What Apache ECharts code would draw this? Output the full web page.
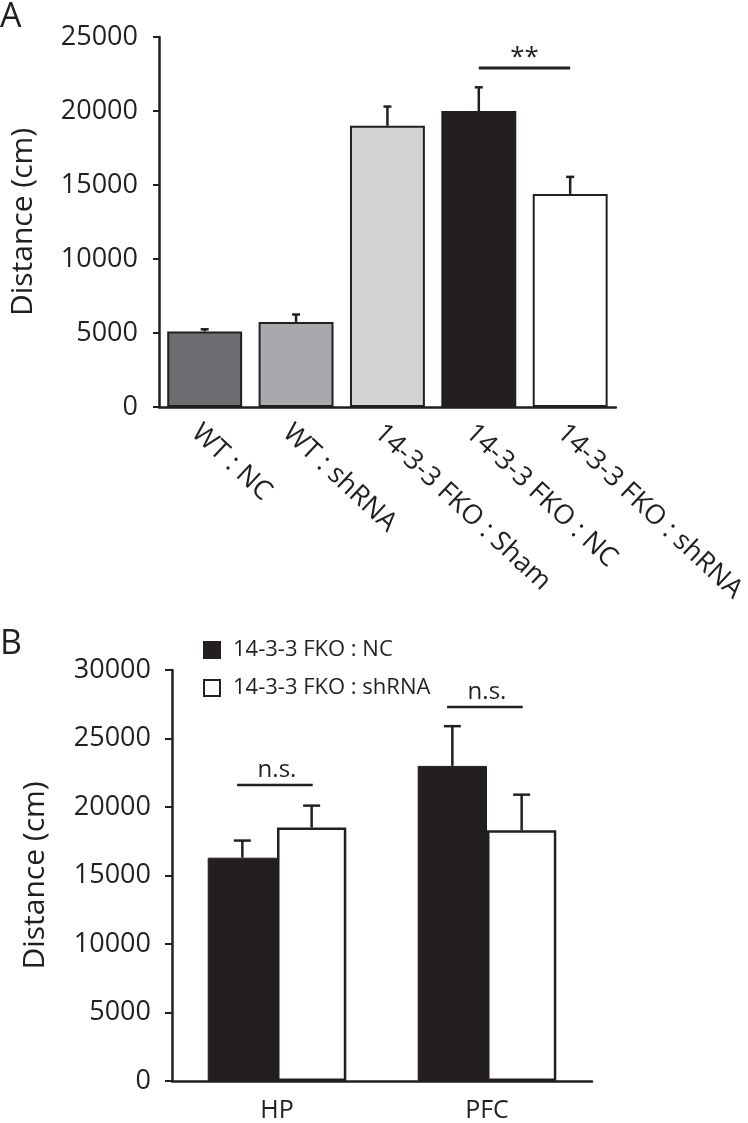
<!DOCTYPE html>
<html>
<head>
<meta charset="utf-8">
<script src="https://cdn.jsdelivr.net/npm/echarts@6/dist/echarts.min.js"></script>
<style>html,body{margin:0;padding:0;background:#fff}#c{width:748px;height:1123px}</style>
</head>
<body>
<div id="c"></div>
<script>
// ---- Panel A data ----
const catsA = ['WT : NC', 'WT : shRNA', '14-3-3 FKO : Sham', '14-3-3 FKO : NC', '14-3-3 FKO : shRNA'];
const valsA = [5100, 5750, 19000, 20000, 14400];
const errA = [150, 500, 1300, 1600, 1150];
const colorsA = ['#6d6e71', '#a7a9ac', '#d1d3d4', '#231f20', '#ffffff'];
const ticksA = [0, 5000, 10000, 15000, 20000, 25000];
const sigA = [[3, 4, 22900]];
const sigLabelsA = ['**'];

// ---- Panel B data ----
const catsB = ['HP', 'PFC'];
const seriesNamesB = ['14-3-3 FKO : NC', '14-3-3 FKO : shRNA'];
const ncB = [16300, 23000];
const ncErrB = [1250, 2900];
const shB = [18500, 18300];
const shErrB = [1600, 2600];
const ticksB = [0, 5000, 10000, 15000, 20000, 25000, 30000];
const sigB = [[0, 21600], [1, 27300]];
const sigLabelsB = ['n.s.', 'n.s.'];

const INK = '#231f20';
const FONT = 'Open Sans';

const chart = echarts.init(document.getElementById('c'), null, {renderer: 'canvas'});

function errRender(capHalf, offsetFrac) {
  return function (params, api) {
    const x = api.value(0), v = api.value(1), e = api.value(2);
    const band = api.size([1, 0])[0];
    const off = band * offsetFrac;
    const p0 = api.coord([x, v]);
    const p1 = api.coord([x, v + e]);
    const cx = p0[0] + off;
    return {
      type: 'group',
      children: [
        {type: 'line', shape: {x1: cx, y1: p0[1], x2: cx, y2: p1[1]}, style: {stroke: INK, lineWidth: 2.5}},
        {type: 'line', shape: {x1: cx - capHalf, y1: p1[1], x2: cx + capHalf, y2: p1[1]}, style: {stroke: INK, lineWidth: 2.5}}
      ]
    };
  };
}

const plain = v => String(v);

const option = {
  animation: false,
  textStyle: {fontFamily: FONT, color: INK},
  graphic: [
    {type: 'text', left: 0, top: 0, style: {text: 'A', font: '34px "Open Sans"', fill: INK}},
    {type: 'text', left: 0, top: 627, style: {text: 'B', font: '34px "Open Sans"', fill: INK}}
  ],
  legend: {
    orient: 'vertical',
    left: 198,
    top: 634,
    itemWidth: 16,
    itemHeight: 16,
    itemGap: 16,
    icon: 'rect',
    data: seriesNamesB,
    textStyle: {fontFamily: FONT, fontSize: 22, color: INK, padding: [0, 0, 0, 8]}
  },
  grid: [
    {left: 148, right: 128, top: 37, height: 370},
    {left: 172, right: 156, top: 670, height: 414}
  ],
  xAxis: [
    {
      gridIndex: 0, type: 'category', data: catsA,
      axisLine: {lineStyle: {color: INK, width: 2.5}},
      axisTick: {show: false},
      axisLabel: {rotate: -43, margin: 12, fontSize: 27, color: INK, fontFamily: FONT, interval: 0, verticalAlign: 'top'}
    },
    {
      gridIndex: 1, type: 'category', data: catsB,
      axisLine: {lineStyle: {color: INK, width: 2.5}},
      axisTick: {show: false},
      axisLabel: {margin: 17, fontSize: 25, color: INK, fontFamily: FONT}
    }
  ],
  yAxis: [
    {
      gridIndex: 0, type: 'value', min: ticksA[0], max: ticksA[ticksA.length - 1], interval: 5000,
      name: 'Distance (cm)', nameLocation: 'middle', nameGap: 121,
      nameTextStyle: {fontSize: 30, color: INK, fontFamily: FONT},
      axisLine: {show: true, lineStyle: {color: INK, width: 2.5}},
      axisTick: {show: true, length: 6, lineStyle: {color: INK, width: 2}},
      axisLabel: {fontSize: 27, color: INK, fontFamily: FONT, margin: 21, formatter: plain},
      splitLine: {show: false}
    },
    {
      gridIndex: 1, type: 'value', min: ticksB[0], max: ticksB[ticksB.length - 1], interval: 5000,
      name: 'Distance (cm)', nameLocation: 'middle', nameGap: 122,
      nameTextStyle: {fontSize: 30, color: INK, fontFamily: FONT},
      axisLine: {show: true, lineStyle: {color: INK, width: 2.5}},
      axisTick: {show: true, length: 7, lineStyle: {color: INK, width: 2}},
      axisLabel: {fontSize: 27, color: INK, fontFamily: FONT, margin: 21, formatter: plain},
      splitLine: {show: false}
    }
  ],
  series: [
    {
      name: 'A', type: 'bar', xAxisIndex: 0, yAxisIndex: 0,
      barCategoryGap: '18%',
      data: valsA.map((v, i) => ({value: v, itemStyle: {color: colorsA[i]}})),
      itemStyle: {borderColor: INK, borderWidth: 2}
    },
    {
      name: 'A err', type: 'custom', xAxisIndex: 0, yAxisIndex: 0, z: 5,
      renderItem: errRender(4, 0),
      data: valsA.map((v, i) => [i, v, errA[i]])
    },
    {
      name: 'A sig', type: 'custom', xAxisIndex: 0, yAxisIndex: 0, z: 5,
      renderItem: function (params, api) {
        const a = api.coord([api.value(0), api.value(2)]);
        const b = api.coord([api.value(1), api.value(2)]);
        return {
          type: 'group',
          children: [
            {type: 'line', shape: {x1: a[0], y1: a[1], x2: b[0], y2: b[1]}, style: {stroke: INK, lineWidth: 3}},
            {type: 'text', style: {text: sigLabelsA[params.dataIndex], x: (a[0] + b[0]) / 2, y: a[1] + 3,
              align: 'center', verticalAlign: 'bottom', font: '26px "Open Sans"', fill: INK}}
          ]
        };
      },
      data: sigA
    },
    {
      name: seriesNamesB[0], type: 'bar', xAxisIndex: 1, yAxisIndex: 1,
      barCategoryGap: '34%', barGap: '0%',
      data: ncB,
      itemStyle: {color: INK, borderColor: INK, borderWidth: 1}
    },
    {
      name: seriesNamesB[1], type: 'bar', xAxisIndex: 1, yAxisIndex: 1,
      barCategoryGap: '34%', barGap: '0%',
      data: shB,
      itemStyle: {color: '#ffffff', borderColor: INK, borderWidth: 2.5}
    },
    {
      name: 'B err nc', type: 'custom', xAxisIndex: 1, yAxisIndex: 1, z: 5,
      renderItem: errRender(8.5, -0.165),
      data: ncB.map((v, i) => [i, v, ncErrB[i]])
    },
    {
      name: 'B err sh', type: 'custom', xAxisIndex: 1, yAxisIndex: 1, z: 5,
      renderItem: errRender(8.5, 0.165),
      data: shB.map((v, i) => [i, v, shErrB[i]])
    },
    {
      name: 'B sig', type: 'custom', xAxisIndex: 1, yAxisIndex: 1, z: 5,
      renderItem: function (params, api) {
        const p = api.coord([api.value(0), api.value(1)]);
        const band = api.size([1, 0])[0];
        const x1 = p[0] - band * 0.19, x2 = p[0] + band * 0.17;
        return {
          type: 'group',
          children: [
            {type: 'line', shape: {x1: x1, y1: p[1], x2: x2, y2: p[1]}, style: {stroke: INK, lineWidth: 2.5}},
            {type: 'text', style: {text: sigLabelsB[params.dataIndex], x: p[0], y: p[1] - 3,
              align: 'center', verticalAlign: 'bottom', font: '24px "Open Sans"', fill: INK}}
          ]
        };
      },
      data: sigB
    }
  ]
};
chart.setOption(option);
</script>
</body>
</html>
